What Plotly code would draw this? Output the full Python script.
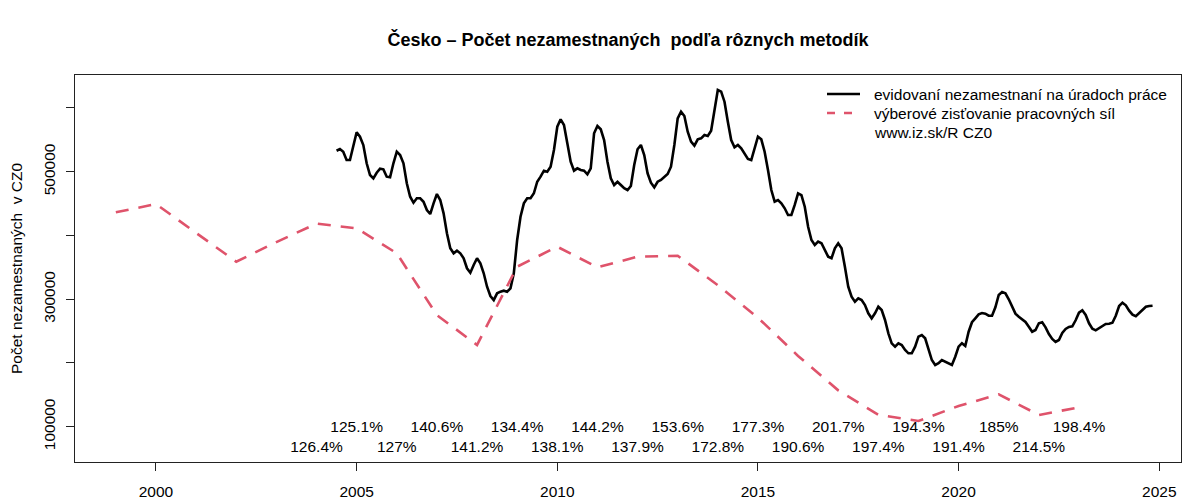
import plotly.graph_objects as go

# ---- data ----
reg_start = 2004.5  # first monthly observation (July 2004), monthly step
reg_values = [
    532900, 535600, 531400, 518300, 518300, 539200, 561800, 554900, 541900, 513200,
    494800, 489600, 498400, 504700, 503700, 492200, 491200, 513200, 531400, 526200,
    513200, 481800, 460800, 451400, 458300, 458300, 452900, 439900, 433600, 450400,
    465000, 455600, 434700, 403400, 379800, 372000, 376100, 372000, 364200, 348500,
    341600, 353600, 364200, 356300, 340600, 319600, 305000, 298700, 309200, 311800,
    313300, 311800, 317100, 340600, 392900, 429400, 450400, 458300, 458300, 466100,
    484300, 492200, 501600, 500000, 507800, 534000, 570600, 582200, 573300, 544500,
    515700, 501600, 505300, 502700, 501600, 495900, 505300, 560200, 571700, 566500,
    549700, 515700, 489600, 479100, 484300, 479100, 474000, 471300, 477600, 510500,
    535100, 541900, 526200, 497500, 482700, 475500, 484300, 487000, 492200, 496400,
    507800, 541900, 583700, 594100, 587400, 562700, 547100, 540800, 550800, 552400,
    557600, 556000, 564300, 596800, 628100, 625500, 609800, 578400, 549700, 538300,
    541900, 536700, 528900, 519900, 518300, 536700, 554900, 550800, 531400, 502700,
    471300, 452900, 455600, 450400, 442600, 432100, 432100, 447800, 466100, 463400,
    445100, 413700, 392900, 385000, 390200, 387700, 377200, 366700, 364200, 379800,
    387700, 379800, 351000, 319600, 303900, 296100, 301400, 298700, 290900, 277900,
    270000, 277900, 288200, 283100, 267400, 246500, 230800, 225500, 230800, 228200,
    220300, 215100, 215100, 225500, 241200, 243800, 238700, 220300, 204600, 196800,
    199500, 204600, 202000, 199500, 196800, 209800, 225500, 231000, 226600, 249000,
    263800, 270000, 276300, 278300, 277300, 274100, 274100, 287300, 306600, 311300,
    309200, 299800, 288200, 277300, 272500, 268900, 264200, 256900, 249000, 251700,
    262200, 263800, 255900, 245400, 237600, 232900, 236000, 247000, 253300, 256400,
    257500, 266900, 278800, 282600, 275200, 262200, 253700, 251200, 254800, 258400,
    261100, 261600, 263100, 274100, 289300, 294500, 290400, 282000, 275700, 273200,
    278300, 284200, 288200, 289300, 289800,
]
reg_x = [reg_start + i / 12 for i in range(len(reg_values))]

lfs_years = list(range(1999, 2024))
lfs_values = [
    436300, 449300, 404000, 358800, 389600, 418500, 411200, 372000, 275100, 228200,
    351000, 382300, 350000, 366700, 368200, 322000, 271000, 211000, 157000, 118500,
    109000, 132500, 150800, 118400, 130400,
]

pct_top_years = [2005, 2007, 2009, 2011, 2013, 2015, 2017, 2019, 2021, 2023]
pct_top_labels = ["125.1%", "140.6%", "134.4%", "144.2%", "153.6%", "177.3%",
                  "201.7%", "194.3%", "185%", "198.4%"]
pct_bot_years = [2004, 2006, 2008, 2010, 2012, 2014, 2016, 2018, 2020, 2022]
pct_bot_labels = ["126.4%", "127%", "141.2%", "138.1%", "137.9%", "172.8%",
                  "190.6%", "197.4%", "191.4%", "214.5%"]
pct_top_level = 97000
pct_bot_level = 66000

x_ticks = [2000, 2005, 2010, 2015, 2020, 2025]
y_ticks = [100000, 200000, 300000, 400000, 500000, 600000]
y_tick_text = ["100000", "", "300000", "", "500000", ""]

title = "<b>Česko – Počet nezamestnaných \u00a0podľa rôznych metodík</b>"
y_title = "Počet nezamestnaných \u00a0v CZ0"
legend_names = ["evidovaní nezamestnaní na úradoch práce",
                "výberové zisťovanie pracovných síl",
                "www.iz.sk/R CZ0"]

FONT = "Liberation Sans, Arial, Helvetica, sans-serif"
FS = 15.5
RED = "#DF536B"
RED_DASH = "13px,10px"

# The page body has an ~8px default margin, so the figure is drawn 8px smaller
# and all target page-pixel positions are shifted by OFF.
OFF = 8
W, H = 1200 - OFF, 500 - OFF
L, T = 75 - OFF, 75 - OFF
R = W - (1181 - OFF)
B = H - (462 - OFF)
PW, PH = W - L - R, H - T - B


def px_x(px):
    """page pixel x -> paper coordinate"""
    return (px - OFF - L) / PW


def px_y(py):
    """page pixel y -> paper coordinate"""
    return 1 - (py - OFF - T) / PH


fig = go.Figure()
fig.add_trace(go.Scatter(x=reg_x, y=reg_values, mode="lines", name=legend_names[0],
                         line=dict(color="black", width=2.6), showlegend=False))
fig.add_trace(go.Scatter(x=lfs_years, y=lfs_values, mode="lines", name=legend_names[1],
                         line=dict(color=RED, width=2.6, dash=RED_DASH), showlegend=False))
fig.add_trace(go.Scatter(x=pct_top_years, y=[pct_top_level] * len(pct_top_years),
                         mode="text", text=pct_top_labels, showlegend=False,
                         textfont=dict(family=FONT, size=FS, color="black")))
fig.add_trace(go.Scatter(x=pct_bot_years, y=[pct_bot_level] * len(pct_bot_years),
                         mode="text", text=pct_bot_labels, showlegend=False,
                         textfont=dict(family=FONT, size=FS, color="black")))

axis_common = dict(showgrid=False, zeroline=False, showline=True, mirror=True,
                   linecolor="#222", linewidth=1, ticks="outside", ticklen=8,
                   tickcolor="#222", automargin=False,
                   tickfont=dict(family=FONT, size=FS, color="black"))

fig.update_xaxes(range=[1997.982, 2025.542], tickvals=x_ticks,
                 ticklabelstandoff=7, **axis_common)
fig.update_yaxes(range=[44600, 651700], tickvals=y_ticks, ticktext=y_tick_text,
                 tickangle=-90, ticklabelstandoff=5, **axis_common)

# manual legend (no border, like R bty="n")
legend_rows_px = [94, 113, 132]
shapes = [
    dict(type="line", xref="paper", yref="paper", x0=px_x(827), x1=px_x(860),
         y0=px_y(legend_rows_px[0]), y1=px_y(legend_rows_px[0]),
         line=dict(color="black", width=2.6)),
    dict(type="line", xref="paper", yref="paper", x0=px_x(827), x1=px_x(860),
         y0=px_y(legend_rows_px[1]), y1=px_y(legend_rows_px[1]),
         line=dict(color=RED, width=2.6, dash="8px,9px")),
]
annotations = [
    dict(text=name, xref="paper", yref="paper", x=px_x(872), y=px_y(py),
         xanchor="left", yanchor="middle", showarrow=False,
         font=dict(family=FONT, size=FS, color="black"))
    for name, py in zip(legend_names, legend_rows_px)
]
annotations.append(dict(text=y_title, xref="paper", yref="paper", x=px_x(16.5), y=0.5,
                        xanchor="center", yanchor="middle", textangle=-90,
                        showarrow=False, font=dict(family=FONT, size=FS, color="black")))

fig.update_layout(
    width=W, height=H,
    margin=dict(l=L, r=R, t=T, b=B),
    plot_bgcolor="white", paper_bgcolor="white",
    font=dict(family=FONT, size=FS, color="black"),
    title=dict(text=title, x=0.5, xref="paper", y=1 - (40 - OFF) / H, yref="container",
               yanchor="middle", automargin=False,
               font=dict(family=FONT, size=18, color="black")),
    showlegend=False,
    shapes=shapes,
    annotations=annotations,
    hovermode=False,
)

fig.write_html("out.html")
